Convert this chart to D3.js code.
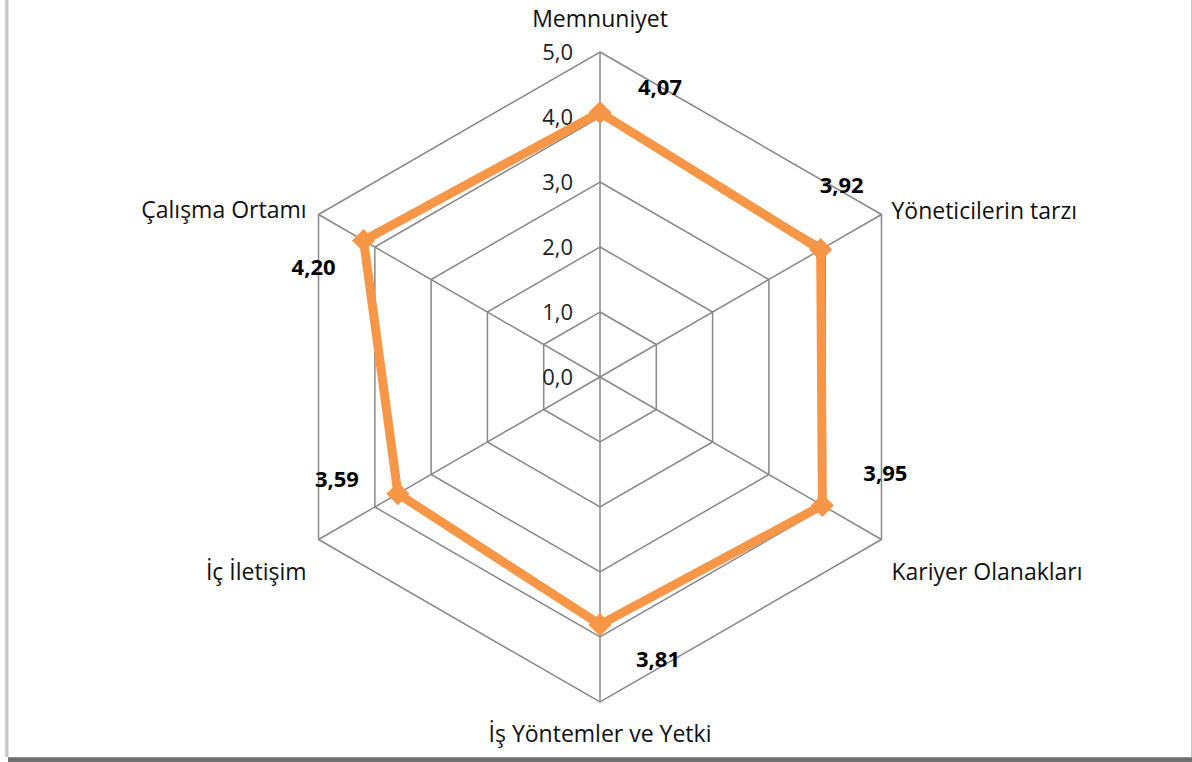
<!DOCTYPE html>
<html>
<head>
<meta charset="utf-8">
<script src="https://cdn.jsdelivr.net/npm/d3@7/dist/d3.min.js"></script>
<style>
  html, body { margin: 0; padding: 0; background: #fff; }
  #chart { width: 1192px; height: 762px; }
</style>
</head>
<body>
<div id="chart"></div>
<script>
// categories, clockwise from the top
const categories = ['Memnuniyet', 'Yöneticilerin tarzı', 'Kariyer Olanakları', 'İş Yöntemler ve Yetki', 'İç İletişim', 'Çalışma Ortamı'];
const values = [4.07, 3.92, 3.95, 3.81, 3.59, 4.20];
const ticks = [0, 1, 2, 3, 4, 5];

const width = 1192;
const height = 762;
const cx = 600;
const cy = 377;
const radius = 325;
const orange = '#F79646';
const grid = '#888888';
const font = '"Open Sans", "Noto Sans", sans-serif';

// label offsets from each point (Excel data labels were moved by hand)
const labelOffsets = [[60, -25], [21, -64], [63, -32], [58, 35], [-61, -14], [-50, 27]];

const svg = d3.select('#chart').append('svg')
  .attr('width', width)
  .attr('height', height)
  .style('display', 'block');

// frame with shadow edges
const defs = svg.append('defs');
const lg = defs.append('linearGradient').attr('id', 'leftShadow').attr('x1', 0).attr('x2', 1);
lg.append('stop').attr('offset', '0%').attr('stop-color', '#fff');
lg.append('stop').attr('offset', '60%').attr('stop-color', '#b8b8b8');
lg.append('stop').attr('offset', '100%').attr('stop-color', '#eee');
const bg = defs.append('linearGradient').attr('id', 'bottomShadow').attr('x1', 0).attr('x2', 0).attr('y1', 0).attr('y2', 1);
bg.append('stop').attr('offset', '0%').attr('stop-color', '#9a9a9a');
bg.append('stop').attr('offset', '40%').attr('stop-color', '#666');
bg.append('stop').attr('offset', '100%').attr('stop-color', '#777');

svg.append('rect').attr('x', 4).attr('y', 0).attr('width', 5).attr('height', 757).attr('fill', 'url(#leftShadow)');
svg.append('rect').attr('x', 8).attr('y', 757).attr('width', 1184).attr('height', 5).attr('fill', 'url(#bottomShadow)');
svg.append('line').attr('x1', 1191.5).attr('x2', 1191.5).attr('y1', 0).attr('y2', 757)
  .attr('stroke', '#c8c8c8').attr('stroke-width', 1);

const r = d3.scaleLinear().domain([0, 5]).range([0, radius]);
const angle = d3.scalePoint().domain(categories).range([0, 2 * Math.PI * (categories.length - 1) / categories.length]);

const pt = (cat, v) => {
  const a = angle(cat);
  return [cx + r(v) * Math.sin(a), cy - r(v) * Math.cos(a)];
};

const g = svg.append('g');

// grid rings
g.selectAll('.ring')
  .data(ticks.filter(t => t > 0))
  .enter()
  .append('polygon')
  .attr('class', 'ring')
  .attr('points', t => categories.map(c => pt(c, t).join(',')).join(' '))
  .attr('fill', 'none')
  .attr('stroke', grid)
  .attr('stroke-width', 1.5);

// spokes
g.selectAll('.spoke')
  .data(categories)
  .enter()
  .append('line')
  .attr('class', 'spoke')
  .attr('x1', cx).attr('y1', cy)
  .attr('x2', c => pt(c, 5)[0])
  .attr('y2', c => pt(c, 5)[1])
  .attr('stroke', grid)
  .attr('stroke-width', 1.5);

// tick labels
const fmt = d3.format('.1f');
g.selectAll('.tick')
  .data(ticks)
  .enter()
  .append('text')
  .attr('class', 'tick')
  .attr('x', cx - 27)
  .attr('y', t => cy - r(t))
  .attr('dy', '0.35em')
  .attr('text-anchor', 'end')
  .attr('font-family', font)
  .attr('font-size', '22px')
  .attr('fill', '#222')
  .text(t => fmt(t).replace('.', ','));

// category labels
const catAnchor = ['middle', 'start', 'start', 'middle', 'end', 'end'];
const catShift = [[0, -33], [10, -4], [10, 32], [0, 32], [-12, 32], [-12, -5]];
g.selectAll('.cat')
  .data(categories)
  .enter()
  .append('text')
  .attr('class', 'cat')
  .attr('x', (c, i) => pt(c, 5)[0] + catShift[i][0])
  .attr('y', (c, i) => pt(c, 5)[1] + catShift[i][1])
  .attr('dy', '0.35em')
  .attr('text-anchor', (c, i) => catAnchor[i])
  .attr('font-family', font)
  .attr('font-size', '23px')
  .attr('fill', '#111')
  .text(c => c);

// series line
const pts = categories.map((c, i) => pt(c, values[i]));
g.append('path')
  .attr('d', d3.line().curve(d3.curveLinearClosed)(pts))
  .attr('fill', 'none')
  .attr('stroke', orange)
  .attr('stroke-width', 9)
  .attr('stroke-linejoin', 'miter');

// diamond markers
g.selectAll('.marker')
  .data(pts)
  .enter()
  .append('path')
  .attr('class', 'marker')
  .attr('transform', d => `translate(${d[0]},${d[1]})`)
  .attr('d', d3.symbol().type(d3.symbolDiamond2).size(340))
  .attr('fill', orange);

// value labels
g.selectAll('.val')
  .data(pts)
  .enter()
  .append('text')
  .attr('class', 'val')
  .attr('x', (d, i) => d[0] + labelOffsets[i][0])
  .attr('y', (d, i) => d[1] + labelOffsets[i][1])
  .attr('dy', '0.35em')
  .attr('text-anchor', 'middle')
  .attr('font-family', font)
  .attr('font-size', '22px')
  .attr('font-weight', 'bold')
  .attr('fill', '#000')
  .text((d, i) => values[i].toFixed(2).replace('.', ','));
</script>
</body>
</html>
